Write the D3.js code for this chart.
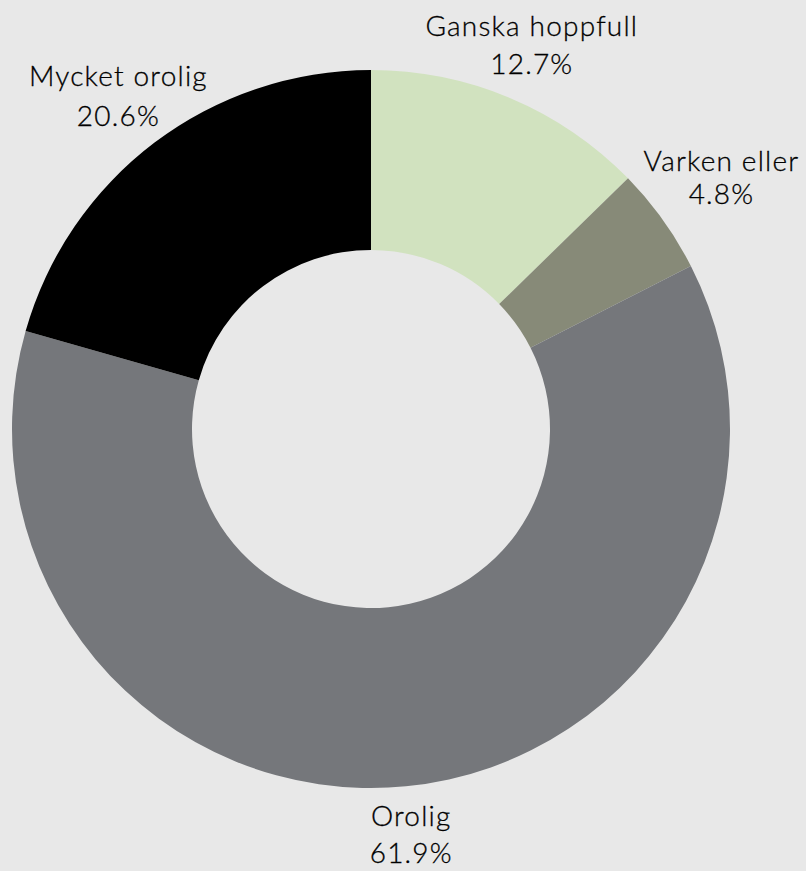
<!DOCTYPE html>
<html>
<head>
<meta charset="utf-8">
<script src="https://cdn.jsdelivr.net/npm/d3@7"></script>
<style>
  html, body { margin: 0; padding: 0; background: #e8e8e8; }
  svg { display: block; }
  .lbl { font-family: Lato, "Open Sans", sans-serif; font-size: 28px; font-weight: 300; letter-spacing: 1.2px; fill: #000; stroke: #000; stroke-width: 0.3px; }
</style>
</head>
<body>
<svg class="donut" width="806" height="871"></svg>
<script>
// data
const categories = ['Ganska hoppfull', 'Varken eller', 'Orolig', 'Mycket orolig'];
const values = [12.7, 4.8, 61.9, 20.6];
const colors = ['#d1e2bf', '#878a78', '#75777b', '#000000'];

function drawDonut(){
  const width = 806;
  const height = 871;
  const cx = 371, cy = 429;
  const outer = 359;
  const inner = 179;

  const data = categories.map((c, i) => ({ name: c, value: values[i], color: colors[i] }));

  const pie = d3.pie()
      .sort(null)
      .value(d => d.value);

  const arc = d3.arc()
      .innerRadius(inner)
      .outerRadius(outer);

  // used only to place labels outside the ring
  const labelArc = d3.arc()
      .innerRadius(414)
      .outerRadius(414);

  const svg = d3.select('svg.donut')
      .append('g')
      .attr('transform', `translate(${cx}, ${cy})`);

  const arcs = pie(data);

  svg.selectAll('path.slice')
    .data(arcs)
    .enter()
    .append('path')
      .attr('class', 'slice')
      .attr('d', arc)
      .attr('fill', d => d.data.color);

  // small nudges where the original labels were shifted
  const nudge = {
    'Ganska hoppfull': [0, -1],
    'Varken eller': [14, -8],
    'Orolig': [0, -5],
    'Mycket orolig': [-3, -1]
  };
  const gap = {
    'Ganska hoppfull': 38,
    'Varken eller': 33,
    'Orolig': 37,
    'Mycket orolig': 40
  };

  const labels = svg.selectAll('g.label')
    .data(arcs)
    .enter()
    .append('g')
      .attr('class', 'label')
      .attr('transform', d => {
        const c = labelArc.centroid(d);
        const n = nudge[d.data.name];
        return `translate(${c[0] + n[0]}, ${c[1] + n[1]})`;
      });

  labels.append('text')
    .attr('class', 'lbl')
    .attr('text-anchor', 'middle')
    .attr('y', d => -gap[d.data.name] / 2 + 8)
    .text(d => d.data.name);

  labels.append('text')
    .attr('class', 'lbl')
    .attr('text-anchor', 'middle')
    .attr('y', d => gap[d.data.name] / 2 + 8)
    .text(d => d.data.value.toFixed(1) + '%');
}

drawDonut();
</script>
</body>
</html>
